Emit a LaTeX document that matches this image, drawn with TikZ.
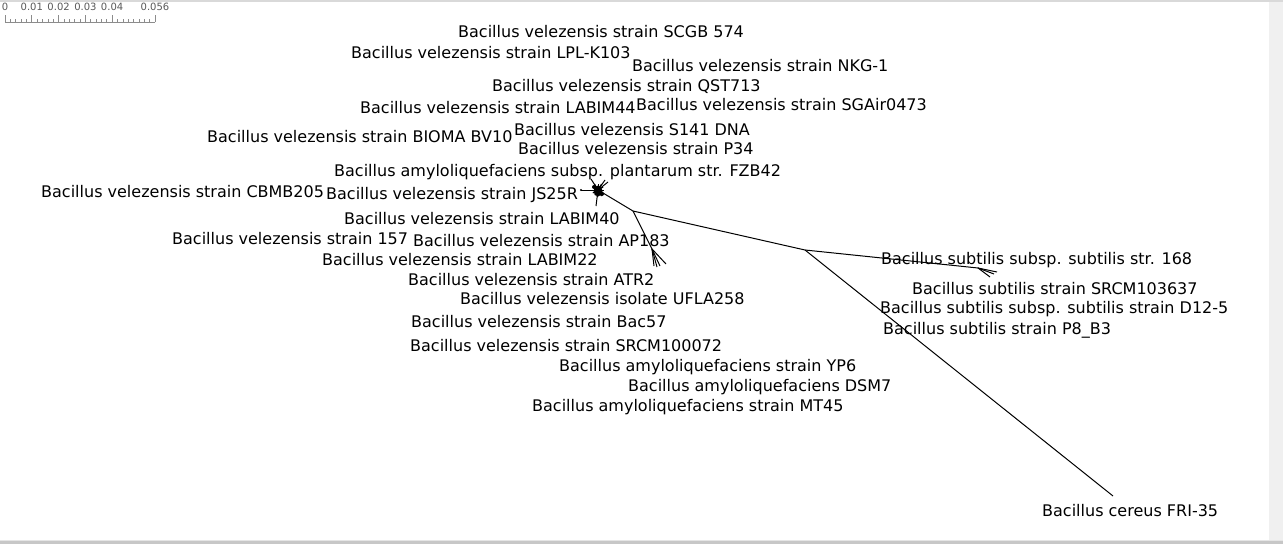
\documentclass[tikz,border=0pt]{standalone}
\usepackage{fontspec}
\setmainfont{DejaVu Sans}
\begin{document}
\begin{tikzpicture}[x=1pt,y=-1pt,
  lbl/.style={anchor=base west,inner sep=0pt,font=\fontsize{16}{19}\selectfont},
  sclbl/.style={anchor=base,inner sep=0pt,text=black!65,font=\fontsize{10}{12}\selectfont},
  branch/.style={line width=1pt,black},
  tick/.style={line width=0.7pt,black!45}]
\useasboundingbox (0,0) rectangle (1283,544);
\fill[white] (0,0) rectangle (1283,544);
% frame strips
\fill[black!6] (1269,0) rectangle (1283,544);
\fill[black!15] (0,0) rectangle (1283,1.5);
\fill[black!10] (0,539.5) rectangle (1283,541);
\fill[black!22] (0,541) rectangle (1283,544);
% scale bar
\node[sclbl] (s0) at (5,10) {0};
\node[sclbl] (s1) at (31.8,10) {0.01};
\node[sclbl] (s2) at (58.6,10) {0.02};
\node[sclbl] (s3) at (85.4,10) {0.03};
\node[sclbl] (s4) at (112.1,10) {0.04};
\node[sclbl] (s5) at (155,10) {0.056};
\coordinate (r0) at (5,22);
\coordinate (r1) at (155,22);
\draw[tick] (r0) -- (r1);
\foreach \i in {0,...,28}{\draw[tick] (5+5.357*\i,22) -- (5+5.357*\i,18.5);}
\foreach \i in {0,5,10,15,20,28}{\draw[tick] (5+5.357*\i,22) -- (5+5.357*\i,15);}
% tree coordinates
\coordinate (P) at (598,190);
\coordinate (A) at (633,211);
\coordinate (B) at (652,249);
\coordinate (C) at (805,250);
\coordinate (D) at (978,268);
\coordinate (tJS) at (581,190);
\coordinate (tUL) at (591,179);
\coordinate (tUR) at (605,180);
\coordinate (tUR2) at (608,182);
\coordinate (tDn) at (596,206);
\coordinate (tB1) at (654,266);
\coordinate (tB2) at (657,267);
\coordinate (tB3) at (660,266);
\coordinate (tB4) at (666,264);
\coordinate (tD1) at (997,272);
\coordinate (tD2) at (990,277);
\coordinate (tD3) at (994,274);
\coordinate (tCer) at (1113,496);
% blob
\fill (598,191) ellipse (4.5pt and 5.5pt);
\fill (594,187) circle (2pt);
\fill (602,194) circle (2pt);
\foreach \a/\l in {0/6,30/6,60/7,95/7,120/6,150/6,180/5,210/6,240/7,270/6,300/7,330/6}{
  \draw[branch] (P) -- ++(\a:\l);}
\draw[branch] (P) -- (tJS);
\fill (tJS) circle (1.2pt);
\draw[branch] (P) -- (tUL);
\draw[branch] (P) -- (tUR);
\draw[branch] (P) -- (tUR2);
\draw[branch] (P) -- (tDn);
% main branches
\draw[branch] (P) -- (A);
\draw[branch] (A) -- (B);
\draw[branch] (B) -- (tB1);
\draw[branch] (B) -- (tB2);
\draw[branch] (B) -- (tB3);
\draw[branch] (B) -- (tB4);
\draw[branch] (A) -- (C);
\draw[branch] (C) -- (D);
\draw[branch] (D) -- (tD1);
\draw[branch] (D) -- (tD2);
\draw[branch] (D) -- (tD3);
\draw[branch] (C) -- (tCer);
% labels
\node[lbl] (l1) at (458,37) {Bacillus velezensis strain SCGB 574};
\node[lbl] (l2) at (351,58) {Bacillus velezensis strain LPL-K103};
\node[lbl] (l3) at (632,71) {Bacillus velezensis strain NKG-1};
\node[lbl] (l4) at (492,91) {Bacillus velezensis strain QST713};
\node[lbl] (l5) at (360,113) {Bacillus velezensis strain LABIM44};
\node[lbl] (l6) at (636,110) {Bacillus velezensis strain SGAir0473};
\node[lbl] (l7) at (207,142) {Bacillus velezensis strain BIOMA BV10};
\node[lbl] (l8) at (514,135) {Bacillus velezensis S141 DNA};
\node[lbl] (l9) at (518,154) {Bacillus velezensis strain P34};
\node[lbl] (l10) at (334,176) {Bacillus amyloliquefaciens subsp. plantarum str. FZB42};
\node[lbl] (l11) at (41,197) {Bacillus velezensis strain CBMB205};
\node[lbl] (l12) at (326,199) {Bacillus velezensis strain JS25R};
\node[lbl] (l13) at (344,224) {Bacillus velezensis strain LABIM40};
\node[lbl] (l14) at (172,244) {Bacillus velezensis strain 157};
\node[lbl] (l15) at (413,246) {Bacillus velezensis strain AP183};
\node[lbl] (l16) at (322,265) {Bacillus velezensis strain LABIM22};
\node[lbl] (l17) at (408,285) {Bacillus velezensis strain ATR2};
\node[lbl] (l18) at (460,304) {Bacillus velezensis isolate UFLA258};
\node[lbl] (l19) at (411,327) {Bacillus velezensis strain Bac57};
\node[lbl] (l20) at (410,351) {Bacillus velezensis strain SRCM100072};
\node[lbl] (l21) at (559,371) {Bacillus amyloliquefaciens strain YP6};
\node[lbl] (l22) at (628,391) {Bacillus amyloliquefaciens DSM7};
\node[lbl] (l23) at (532,411) {Bacillus amyloliquefaciens strain MT45};
\node[lbl] (l24) at (881,264) {Bacillus subtilis subsp. subtilis str. 168};
\node[lbl] (l25) at (912,294) {Bacillus subtilis strain SRCM103637};
\node[lbl] (l26) at (880,313) {Bacillus subtilis subsp. subtilis strain D12-5};
\node[lbl] (l27) at (883,334) {Bacillus subtilis strain P8\_B3};
\node[lbl] (l28) at (1042,516) {Bacillus cereus FRI-35};
\end{tikzpicture}
\end{document}
